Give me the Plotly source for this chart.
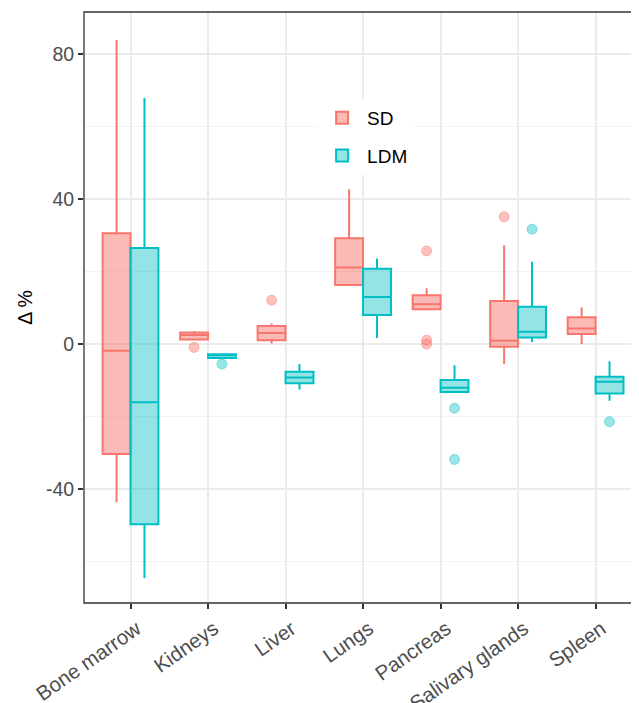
import plotly.graph_objects as go

categories = ["Bone marrow", "Kidneys", "Liver", "Lungs", "Pancreas", "Salivary glands", "Spleen"]

# SD group statistics
sd_lower = [-43.6, 1.3, 0.2, 16.0, 9.6, -5.5, 0.0]
sd_q1 = [-30.3, 1.3, 1.1, 16.3, 9.6, -0.7, 2.8]
sd_median = [-1.8, 2.5, 3.1, 21.1, 11.0, 0.9, 4.3]
sd_q3 = [30.6, 3.2, 5.0, 29.2, 13.5, 11.9, 7.4]
sd_upper = [83.9, 3.6, 5.7, 42.7, 15.4, 27.3, 10.1]
sd_out_cat = ["Kidneys", "Liver", "Pancreas", "Pancreas", "Pancreas", "Salivary glands"]
sd_out_val = [-0.9, 12.1, 25.7, 1.1, 0.0, 35.1]

# LDM group statistics
ldm_lower = [-64.5, -3.8, -12.5, 1.7, -13.2, 0.6, -15.6]
ldm_q1 = [-49.7, -3.8, -10.8, 8.0, -13.2, 1.8, -13.6]
ldm_median = [-16.0, -3.1, -9.2, 13.0, -12.0, 3.4, -10.4]
ldm_q3 = [26.5, -2.8, -7.6, 20.8, -9.9, 10.3, -9.0]
ldm_upper = [67.9, -2.8, -5.5, 23.6, -5.8, 22.7, -4.7]
ldm_out_cat = ["Kidneys", "Pancreas", "Pancreas", "Salivary glands", "Spleen"]
ldm_out_val = [-5.5, -17.7, -31.8, 31.7, -21.4]

y_ticks = [-40, 0, 40, 80]

SD_LINE = "#F8766D"
SD_FILL = "rgba(248,118,109,0.5)"
SD_PT = "rgba(248,118,109,0.45)"
LDM_LINE = "#00BFC4"
LDM_FILL = "rgba(0,191,196,0.42)"
LDM_PT = "rgba(0,191,196,0.4)"

fig = go.Figure()


def add_group(name, lo, q1, med, q3, hi, ocat, oval, line, fill, pt, grp):
    fig.add_trace(go.Box(
        name=name, x=categories, q1=q1, median=med, q3=q3,
        lowerfence=lo, upperfence=hi, boxpoints=False,
        line=dict(color=line, width=2), fillcolor=fill,
        whiskerwidth=0, offsetgroup=grp, legendgroup=grp,
        showlegend=True,
    ))
    fig.add_trace(go.Box(
        name=name + " outliers", x=ocat, y=oval, boxpoints="all",
        jitter=0, pointpos=0, line=dict(color="rgba(0,0,0,0)", width=0),
        fillcolor="rgba(0,0,0,0)", whiskerwidth=0,
        marker=dict(color=pt, size=10, line=dict(color=pt, width=1)),
        offsetgroup=grp, legendgroup=grp, showlegend=False,
    ))


add_group("SD", sd_lower, sd_q1, sd_median, sd_q3, sd_upper,
          sd_out_cat, sd_out_val, SD_LINE, SD_FILL, SD_PT, "SD")
add_group("LDM", ldm_lower, ldm_q1, ldm_median, ldm_q3, ldm_upper,
          ldm_out_cat, ldm_out_val, LDM_LINE, LDM_FILL, LDM_PT, "LDM")

# page body has an 8px margin, so the figure is 8px smaller than the window
fig.update_layout(
    width=631, height=695,
    margin=dict(l=76, r=0, t=4, b=100),
    paper_bgcolor="white", plot_bgcolor="white",
    boxmode="group", boxgap=0.28, boxgroupgap=0,
    font=dict(family="Liberation Sans, Arial, sans-serif", color="#4D4D4D"),
    legend=dict(
        x=0.42, y=0.853, xanchor="left", yanchor="top",
        bgcolor="white", font=dict(size=19, color="black"),
        traceorder="grouped", tracegroupgap=10, itemwidth=40,
    ),
    showlegend=True,
)

fig.update_xaxes(
    type="category", categoryorder="array", categoryarray=categories,
    range=[-0.6, 6.56], showgrid=True, gridcolor="#EBEBEB", gridwidth=1.5,
    ticks="outside", ticklen=5, tickwidth=1.5, tickcolor="#333333",
    tickangle=-35, tickfont=dict(size=20.5, color="#4D4D4D"),
    ticklabelshift=6,
    showline=False, zeroline=False, automargin=False,
)

fig.update_yaxes(
    range=[-71.4, 91.6], tickvals=y_ticks, ticktext=[str(v) for v in y_ticks],
    showgrid=True, gridcolor="#EBEBEB", gridwidth=1.5,
    minor=dict(tickvals=[-60, -20, 20, 60], showgrid=True, gridcolor="#F2F2F2",
               gridwidth=1, ticks=""),
    ticks="outside", ticklen=5, tickwidth=1.5, tickcolor="#333333",
    tickfont=dict(size=19.5, color="#4D4D4D"),
    title=dict(text="Δ %", font=dict(size=19.5, color="black"), standoff=8),
    zeroline=False, showline=False, automargin=False,
)

fig.add_shape(type="rect", xref="paper", yref="paper", x0=0, x1=1.02, y0=0, y1=1,
              line=dict(color="#333333", width=1.3), fillcolor="rgba(0,0,0,0)",
              layer="above")

fig.write_html("out.html")
